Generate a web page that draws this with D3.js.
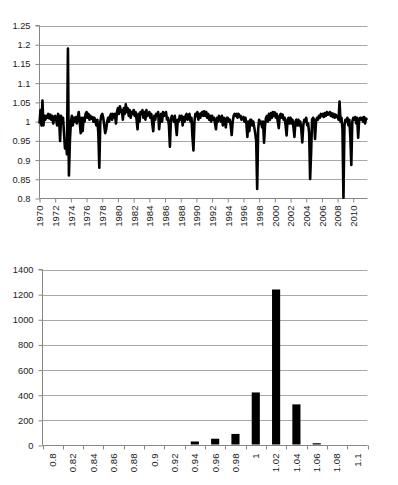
<!DOCTYPE html>
<html><head><meta charset="utf-8">
<script src="https://cdn.jsdelivr.net/npm/d3@7"></script>
<style>body{margin:0;background:#fff}svg text{font-family:"Liberation Sans",Arial,sans-serif;font-size:9.3px;fill:#1a1a1a}</style>
</head><body><svg id="c" width="398" height="485"></svg>
<script>
// ---- Top chart data: ratio series, 8 samples per year starting 1970 ----
const startYear = 1970;
const samplesPerYear = 8;
const ratioValues = [
  0.995,1.03,0.99,1.055,0.99,1.015,1.005,1.015,   // 1970
  1.01,1.02,1.008,1.018,1.005,1.015,0.995,1.012,  // 1971
  1.015,1.005,0.99,1.02,1.01,0.95,1.015,1.0,      // 1972
  1.01,0.97,0.93,0.945,0.915,1.19,0.86,0.95,      // 1973
  1.0,1.015,0.99,1.01,1.0,1.012,0.995,1.01,       // 1974
  1.025,1.0,0.97,1.01,0.975,1.01,1.0,1.02,        // 1975
  1.025,1.01,1.02,1.005,1.015,1.008,1.012,1.0,    // 1976
  1.01,1.0,0.99,1.005,0.97,0.88,1.0,1.015,        // 1977
  1.02,1.01,0.99,0.97,0.98,1.0,1.01,1.0,          // 1978
  1.015,1.02,1.005,1.02,1.01,1.02,0.995,1.025,    // 1979
  1.035,1.02,1.04,1.025,1.03,1.005,1.035,1.02,    // 1980
  1.045,1.025,1.035,1.015,1.03,1.01,1.025,1.02,   // 1981
  1.03,1.015,1.025,1.005,0.98,1.02,1.0,1.025,     // 1982
  1.02,1.03,1.01,1.025,1.005,1.03,1.015,1.02,     // 1983
  1.025,1.01,1.02,0.995,0.975,1.015,1.005,1.02,   // 1984
  1.015,1.025,0.98,1.01,1.02,1.0,1.025,1.015,     // 1985
  1.02,1.025,1.005,1.01,0.99,0.935,1.005,1.015,   // 1986
  1.01,1.0,1.015,0.99,0.965,1.005,1.0,1.015,      // 1987
  1.005,1.015,0.99,1.012,1.0,1.015,1.02,1.005,    // 1988
  1.015,1.02,1.0,1.01,0.96,0.925,1.0,1.02,        // 1989
  1.015,1.025,1.005,1.02,1.01,1.022,1.025,1.015,  // 1990
  1.027,1.015,1.025,1.01,1.02,1.005,1.015,1.0,    // 1991
  1.015,1.005,1.01,0.995,0.98,1.01,1.0,1.015,     // 1992
  1.01,1.0,1.015,0.99,1.01,1.005,0.985,1.01,      // 1993
  1.01,1.0,1.005,0.99,0.965,1.0,1.015,1.02,       // 1994
  1.015,1.02,1.01,1.02,1.012,1.015,1.005,1.01,    // 1995
  1.012,1.0,1.01,0.995,0.96,1.0,0.975,1.005,      // 1996
  1.005,0.99,1.0,0.985,0.97,0.95,0.825,0.98,      // 1997
  1.005,0.995,1.0,0.985,1.0,0.945,0.99,1.01,      // 1998
  1.015,1.0,1.02,1.005,1.022,1.01,1.025,1.015,    // 1999
  1.024,1.01,1.02,1.0,0.983,1.015,1.02,1.01,      // 2000
  1.018,1.005,1.01,0.99,0.964,1.005,1.01,0.995,   // 2001
  1.01,0.995,1.005,0.985,0.96,1.0,1.005,0.99,     // 2002
  1.005,0.99,1.0,0.98,0.946,0.99,1.005,1.0,       // 2003
  1.01,0.99,0.995,0.97,0.851,0.92,1.005,1.01,     // 2004
  1.005,0.955,1.0,1.01,1.005,1.015,1.01,1.02,     // 2005
  1.015,1.02,1.012,1.022,1.015,1.025,1.018,1.02,  // 2006
  1.025,1.015,1.022,1.012,1.02,1.01,1.018,1.012,  // 2007
  1.015,1.005,1.052,1.0,1.01,0.98,0.802,0.99,     // 2008
  1.005,1.0,1.01,0.99,1.005,0.96,0.887,1.0,       // 2009
  1.01,1.005,1.012,0.995,1.01,0.958,1.005,1.01,   // 2010
  1.005,1.01,1.0,1.012,0.995,1.008,1.004          // 2011
];
const topYTicks = [0.8,0.85,0.9,0.95,1,1.05,1.1,1.15,1.2,1.25];
const topXTickYears = [1970,1972,1974,1976,1978,1980,1982,1984,1986,1988,1990,1992,1994,1996,1998,2000,2002,2004,2006,2008,2010];

// ---- Bottom chart data: histogram ----
const histBins = ["0.8","0.82","0.84","0.86","0.88","0.9","0.92","0.94","0.96","0.98","1","1.02","1.04","1.06","1.08","1.1"];
const histCounts = [0,4,4,4,4,4,4,28,50,88,418,1237,323,14,0,0];
const bottomYTicks = [0,200,400,600,800,1000,1200,1400];

const svg = d3.select("#c");
const gridColor = "#a8a8a8", axisColor = "#868686";

// ================= TOP CHART =================
{
  const L = 39.5, R = 367.5, T = 25.5, B = 198.5;
  const pts = ratioValues.map((v,i) => ({t: startYear + i/samplesPerYear, v}));
  const x = d3.scaleLinear().domain([startYear, pts[pts.length-1].t]).range([L, 367]);
  const y = d3.scaleLinear().domain([0.8, 1.25]).range([B, T]);
  const g = svg.append("g");
  g.selectAll("line.grid").data(topYTicks.filter(d => d > 0.8)).join("line")
    .attr("x1", L).attr("x2", R).attr("y1", d => Math.round(y(d))+0.5).attr("y2", d => Math.round(y(d))+0.5)
    .attr("stroke", gridColor).attr("stroke-width", 1);
  const ya = d3.axisLeft(y).tickValues(topYTicks).tickSize(4).tickPadding(5).tickFormat(d => String(+d.toFixed(2)));
  const yg = g.append("g").attr("transform", `translate(${L},0)`).call(ya);
  yg.select(".domain").attr("stroke", axisColor).attr("d", `M-4,${T}H0V${B}`);
  yg.selectAll(".tick line").attr("stroke", axisColor);
  yg.selectAll("text").style("font-size", "9.3px").attr("fill", "#1a1a1a");
  const xa = d3.axisBottom(x).tickValues(topXTickYears).tickSize(4).tickFormat(d3.format("d"));
  const xg = g.append("g").attr("transform", `translate(0,${B})`).call(xa);
  xg.select(".domain").attr("stroke", axisColor).attr("d", `M${L},0H${R}`);
  xg.selectAll(".tick line").attr("stroke", axisColor);
  xg.selectAll("text").attr("transform", "rotate(-90)").attr("text-anchor", "end")
    .attr("x", -7).attr("y", 0).attr("dy", "0.35em").style("font-size", "9.6px").attr("fill", "#1a1a1a");
  const line = d3.line().x(d => x(d.t)).y(d => y(d.v));
  g.append("path").datum(pts).attr("d", line).attr("fill", "none")
    .attr("stroke", "#000").attr("stroke-width", 2.6).attr("stroke-linejoin", "round");
}

// ================= BOTTOM CHART =================
{
  const L = 42.5, R = 367.5, T = 269.5, B = 445.5;
  const x = d3.scaleBand().domain(histBins).range([L, R]).padding(0);
  const y = d3.scaleLinear().domain([0, 1400]).range([B, T]);
  const g = svg.append("g");
  g.selectAll("line.grid").data(bottomYTicks.filter(d => d > 0)).join("line")
    .attr("x1", L).attr("x2", R).attr("y1", d => Math.round(y(d))+0.5).attr("y2", d => Math.round(y(d))+0.5)
    .attr("stroke", gridColor).attr("stroke-width", 1);
  const ya = d3.axisLeft(y).tickValues(bottomYTicks).tickSize(4).tickPadding(5).tickFormat(d3.format("d"));
  const yg = g.append("g").attr("transform", `translate(${L},0)`).call(ya);
  yg.select(".domain").attr("stroke", axisColor).attr("d", `M-4,${T}H0V${B}`);
  yg.selectAll(".tick line").attr("stroke", axisColor);
  yg.selectAll("text").style("font-size", "9.3px").attr("fill", "#1a1a1a");
  const xg = g.append("g").attr("transform", `translate(0,${B})`);
  xg.append("path").attr("d", `M${L},0H${R}`).attr("stroke", axisColor).attr("fill", "none");
  const bounds = histBins.map(b => x(b)).concat([R]);
  xg.selectAll("line.tk").data(bounds).join("line")
    .attr("x1", d => Math.round(d)+0.5).attr("x2", d => Math.round(d)+0.5).attr("y1", 0).attr("y2", 4)
    .attr("stroke", axisColor);
  xg.selectAll("text").data(histBins).join("text")
    .attr("transform", d => `translate(${x(d) + x.bandwidth()/2},8) rotate(-90)`)
    .attr("text-anchor", "end").attr("dy", "0.35em").style("font-size", "9.6px").text(d => d);
  const bw = x.bandwidth() * 0.4;
  g.selectAll("rect.bar").data(histBins.map((b,i) => ({b, c: histCounts[i]}))).join("rect")
    .attr("x", d => x(d.b) + (x.bandwidth()-bw)/2).attr("width", bw)
    .attr("y", d => y(d.c) - 0.5).attr("height", d => B - 0.5 - y(d.c) + 0.5 - 0.5).attr("fill", "#000");
}
</script></body></html>
